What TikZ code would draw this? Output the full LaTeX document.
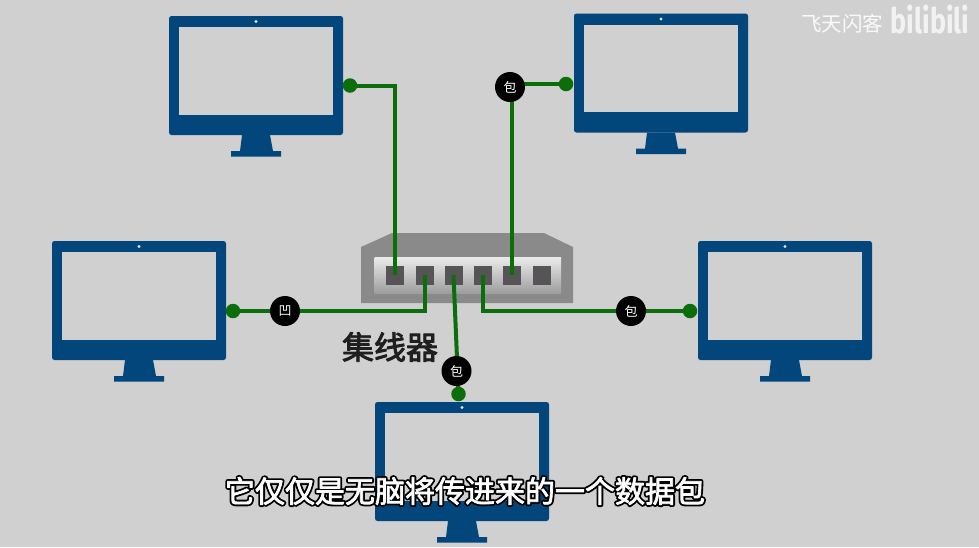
\documentclass[tikz,border=0pt]{standalone}
\usepackage{fontspec}
\setmainfont{Noto Sans CJK SC}
\newfontfamily\latinbold{Fira Sans Bold}
\usetikzlibrary{positioning}
\definecolor{bgcol}{HTML}{D0D0D0}
\definecolor{pcblue}{HTML}{03467B}
\definecolor{wirecol}{HTML}{0B6E0B}
\definecolor{hubcol}{HTML}{8A8A8A}
\definecolor{portcol}{HTML}{565456}
\tikzset{
bezel/.style={fill=pcblue,rounded corners=2.5pt,minimum width=174pt,minimum height=119pt,inner sep=0pt},
screen/.style={fill=bgcol,minimum width=154pt,minimum height=87.5pt,inner sep=0pt},
port/.style={fill=portcol,minimum width=18pt,minimum height=19pt,inner sep=0pt},
dot/.style={circle,fill=wirecol,minimum size=14.5pt,inner sep=0pt},
wire/.style={draw=wirecol,line width=4pt},
packet/.style={circle,fill=black,text=white,minimum size=30pt,inner sep=0pt,font=\fontsize{13}{13}\selectfont}
}
% stroke width, stroke grey, text
\newcommand{\stroked}[3]{\special{pdf:code 2 Tr #1 w 1 j #2 G}#3\special{pdf:code 0 Tr 1 w 0 j}}
% black outline under white text
\newcommand{\outlined}[1]{\rlap{\stroked{4.4}{0}{#1}}\stroked{0.7}{1}{#1}}
% name, left edge, top edge of the bezel
\newcommand{\monitor}[3]{
\begin{scope}[shift={(#2,#3)}]
\fill[pcblue] (73,119)--(101,119)--(104,135)--(112,135)--(112,140.5)--(62,140.5)--(62,135)--(71,135)--cycle;
\node[bezel] (#1) at (87,59.5) {};
\node[screen] (#1scr) at (87,54.75) {};
\fill[bgcol!60!white] (87,5.5) circle (1.6pt);
\end{scope}}
\begin{document}
\begin{tikzpicture}[x=1pt,y=-1pt]
\useasboundingbox (0,0) rectangle (979,547);
\fill[bgcol] (0,0) rectangle (979,547);
\monitor{pcA}{169}{16}
\monitor{pcB}{574}{13.5}
\monitor{pcC}{52}{241}
\monitor{pcD}{698}{241}
\monitor{pcE}{375}{402}
% hub
\fill[hubcol] (361,303)--(361,247)--(392,233)--(544,233)--(573,247)--(573,303)--cycle;
\shade[top color=white!92!black,bottom color=white!62!black] (374.5,257) rectangle (561,293);
\foreach \i/\x in {1/395,2/424.5,3/453.5,4/483,5/512,6/541.5}
  \node[port] (port\i) at (\x,275) {};
\node[dot] (dotA) at (350,85.5) {};
\node[dot] (dotB) at (566,84) {};
\node[dot] (dotC) at (233,311) {};
\node[dot] (dotD) at (690,311) {};
\node[dot] (dotE) at (458.5,394) {};
\draw[wire] (dotA.center)-|(port1.center);
\draw[wire] (dotB.center)-|(port5.center);
\draw[wire] (dotC.center)-|(port2.center);
\draw[wire] (dotD.center)-|(port4.center);
\draw[wire] (dotE.center)--(port3.center);
\node[packet] (pktB) at (510,87) {包};
\node[packet] (pktC) at (285,311) {凹};
\node[packet] (pktD) at (631,311) {包};
\node[packet] (pktE) at (456.5,371) {包};
\node[font=\fontsize{32}{32}\selectfont,text=black!88] (hublabel) at (390,347) {\stroked{0.9}{0.12}{集线器}};
\node[font=\fontsize{30}{30}\selectfont,text=white] (subtitle) at (465,491) {\outlined{它仅仅是无脑将传进来的一个数据包}};
\node[font=\fontsize{20.5}{20.5}\selectfont,text=white!90!bgcol] (author) at (842,24) {飞天闪客};
\node[font=\latinbold\fontsize{27}{27}\selectfont,text=white!72!bgcol] (logo) at (930,20) {\scalebox{1}[1.3]{bilibili}};
\end{tikzpicture}
\end{document}
